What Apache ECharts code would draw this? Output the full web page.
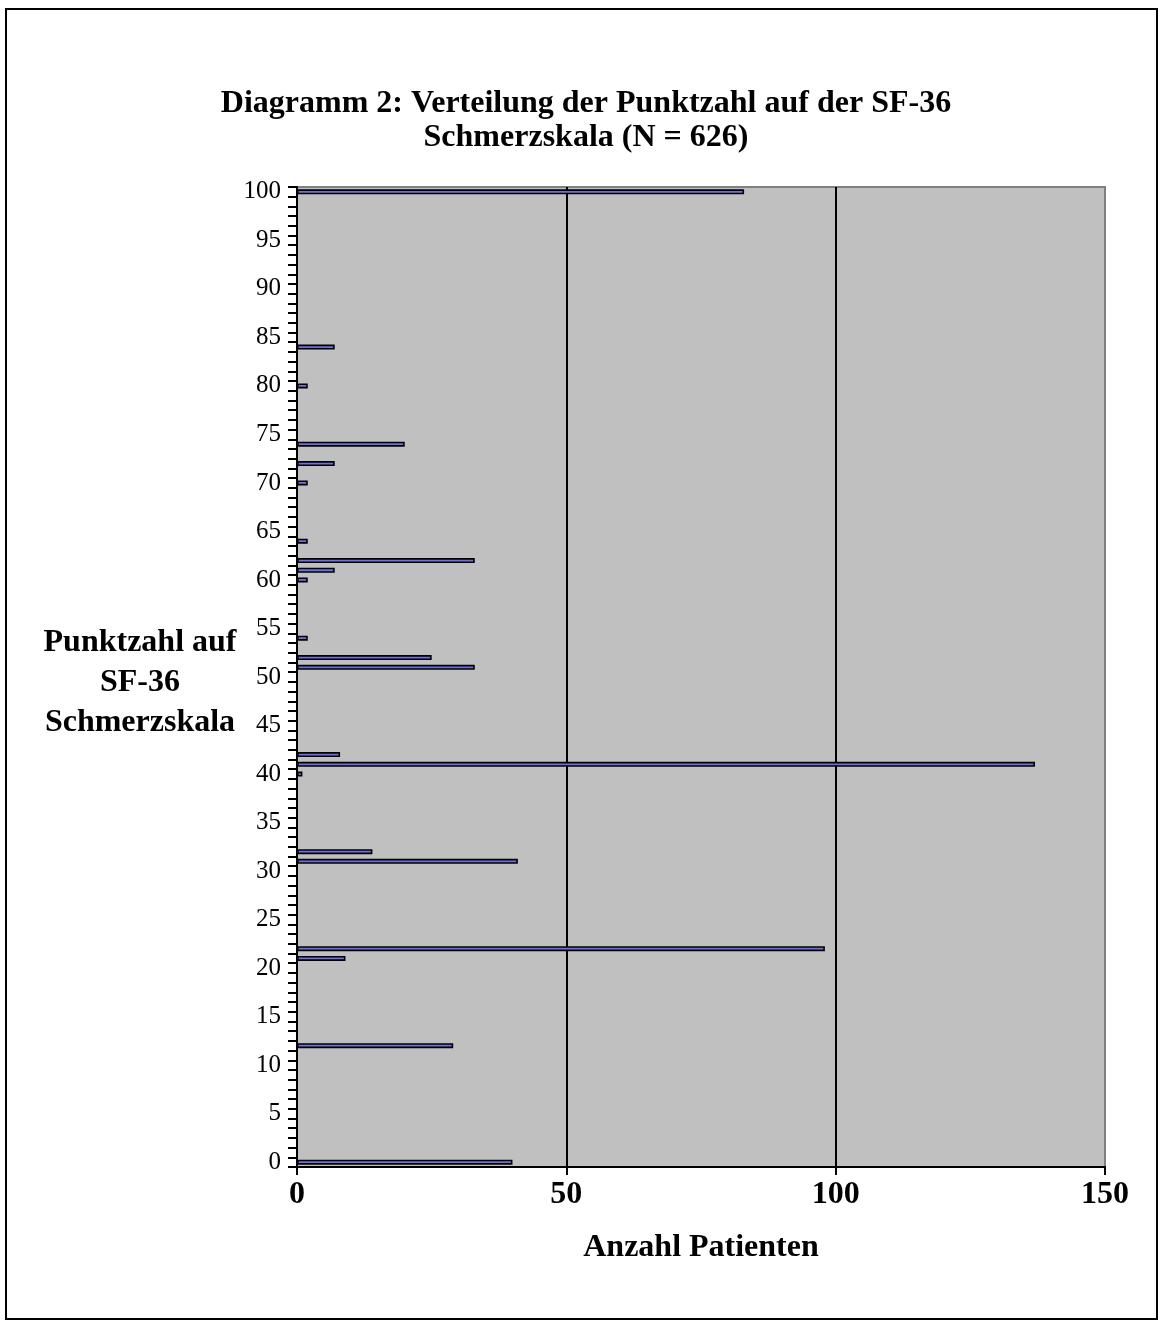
<!DOCTYPE html>
<html>
<head>
<meta charset="utf-8">
<script src="https://cdn.jsdelivr.net/npm/echarts@6/dist/echarts.min.js"></script>
<style>
html,body{margin:0;padding:0;background:#fff;}
#chart{width:1162px;height:1325px;}
</style>
</head>
<body>
<div id="chart"></div>
<script>
// Scores (y categories) that have bars, and patient counts for them
var scores = [0, 12, 21, 22, 31, 32, 40, 41, 42, 51, 52, 54, 60, 61, 62, 64, 70, 72, 74, 80, 84, 100];
var counts = [40, 29, 9, 98, 41, 14, 1, 137, 8, 33, 25, 2, 2, 7, 33, 2, 2, 7, 20, 2, 7, 83];
var xTicks = [0, 50, 100, 150];
var titleLines = ['Diagramm 2: Verteilung der Punktzahl auf der SF-36', 'Schmerzskala (N = 626)'];
var yName = ['Punktzahl auf', 'SF-36', 'Schmerzskala'];
var xName = 'Anzahl Patienten';

var categories = [];
for (var i = 0; i <= 100; i++) categories.push(String(i));
var seriesData = categories.map(function () { return null; });
scores.forEach(function (s, k) { seriesData[s] = counts[k]; });

var FONT = '"Liberation Serif", "Times New Roman", serif';
var chart = echarts.init(document.getElementById('chart'));
chart.setOption({
  animation: false,
  backgroundColor: '#ffffff',
  grid: {
    left: 297, right: 1162 - 1105, top: 187, bottom: 1325 - 1167,
    show: true, backgroundColor: '#c0c0c0', borderColor: '#808080', borderWidth: 2
  },
  xAxis: {
    type: 'value', min: 0, max: 150, interval: 50,
    axisLine: { show: true, lineStyle: { color: '#000', width: 2 } },
    axisTick: { show: true, length: 8, lineStyle: { color: '#000', width: 2 } },
    axisLabel: {
      margin: 12, fontFamily: FONT, fontSize: 32, fontWeight: 'bold', color: '#000',
      formatter: function (v) { return xTicks.indexOf(v) >= 0 ? String(v) : ''; }
    },
    splitLine: { show: true, showMinLine: false, showMaxLine: false, lineStyle: { color: '#000', width: 2 } },
    name: xName, nameLocation: 'middle', nameGap: 65,
    nameTextStyle: { fontFamily: FONT, fontSize: 32, fontWeight: 'bold', color: '#000' }
  },
  yAxis: {
    type: 'category', data: categories,
    axisLine: { show: true, lineStyle: { color: '#000', width: 2 } },
    axisTick: { show: true, interval: 0, length: 9, lineStyle: { color: '#000', width: 2 } },
    axisLabel: { interval: 4, margin: 16, fontFamily: FONT, fontSize: 25, color: '#000' },
    splitLine: { show: false }
  },
  series: [{
    type: 'bar', data: seriesData, barWidth: 5,
    itemStyle: { color: '#7070e0', borderColor: '#000', borderWidth: 1.6 }
  }],
  graphic: [
    { type: 'rect', shape: { x: 6, y: 9, width: 1151, height: 1310 },
      style: { fill: 'none', stroke: '#000', lineWidth: 2 }, silent: true },
    { type: 'text', x: 586, y: 121,
      style: { text: titleLines.join('\n'), font: 'bold 32px ' + FONT, fill: '#000',
               textAlign: 'center', textVerticalAlign: 'middle', lineHeight: 34 } },
    { type: 'text', x: 140, y: 683,
      style: { text: yName.join('\n'), font: 'bold 32px ' + FONT, fill: '#000',
               textAlign: 'center', textVerticalAlign: 'middle', lineHeight: 40 } }
  ]
});
</script>
</body>
</html>
